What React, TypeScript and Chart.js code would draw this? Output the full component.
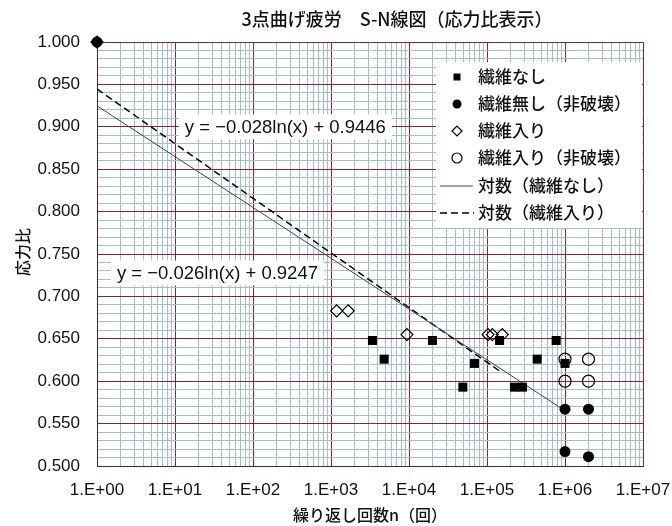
import React, { useEffect, useRef } from 'react';
import { Chart, registerables } from 'chart.js';

Chart.register(...registerables);

// ---- text ----
const titleText = '3点曲げ疲労　S-N線図（応力比表示）';
const xAxisTitle = '繰り返し回数n（回）';
const yAxisTitle = '応力比';
const seriesNames = ['繊維なし', '繊維無し（非破壊）', '繊維入り', '繊維入り（非破壊）', '対数（繊維なし）', '対数（繊維入り）'];

// ---- data ----
const noFiberX = [3400, 4800, 20000, 49000, 69000, 145000, 225000, 285000, 440000, 770000, 1000000];
const noFiberY = [0.648, 0.626, 0.648, 0.593, 0.621, 0.648, 0.593, 0.593, 0.626, 0.648, 0.621];

const noFiberRunoutX = [1, 1000000, 2000000, 1000000, 2000000];
const noFiberRunoutY = [1.0, 0.567, 0.567, 0.517, 0.511];

const fiberX = [1, 1180, 1660, 9400, 103000, 117000, 157000];
const fiberY = [1.0, 0.683, 0.683, 0.655, 0.655, 0.655, 0.655];

const fiberRunoutX = [1000000, 2000000, 1000000, 2000000];
const fiberRunoutY = [0.626, 0.626, 0.6, 0.6];

const trendNoFiberX = [1, 900000];
const trendNoFiberY = [0.9247, 0.568];
const trendFiberX = [1, 157000];
const trendFiberY = [0.9446, 0.6097];

const eqNoFiber = 'y = −0.026ln(x) + 0.9247';
const eqNoFiberAt = [35, 0.7276];
const eqFiber = 'y = −0.028ln(x) + 0.9446';
const eqFiberAt = [260, 0.9];

// ---- ticks ----
const xTickLabels = ['1.E+00', '1.E+01', '1.E+02', '1.E+03', '1.E+04', '1.E+05', '1.E+06', '1.E+07'];
const yTickLabels = ['0.500', '0.550', '0.600', '0.650', '0.700', '0.750', '0.800', '0.850', '0.900', '0.950', '1.000'];

const xTickValues: number[] = [];
for (let d = 0; d < 7; d++) for (let m = 1; m <= 9; m++) xTickValues.push(m * Math.pow(10, d));
xTickValues.push(1e7);
const yTickValues: number[] = [];
for (let i = 50; i <= 100; i++) yTickValues.push(i / 100);

const MAJOR = '#8a2236';
const MINOR = '#a3c0c9';
const AXIS = '#4a2530';
const TXT = '#111111';
const JP = '"Noto Sans CJK JP", "Noto Sans", sans-serif';
const LAT = '"Liberation Sans", Arial, sans-serif';

const isDecade = (v: number) => {
  const e = Math.log10(v);
  return Math.abs(e - Math.round(e)) < 1e-9;
};
const isYMajor = (v: number) => Math.round(v * 1000) % 50 === 0;

const toPts = (xs: number[], ys: number[]) => xs.map((x, i) => ({ x, y: ys[i] }));

const overlay = {
  id: 'overlay',
  afterDraw(chart: any) {
    const ctx = chart.ctx as CanvasRenderingContext2D;
    const xs = chart.scales.x;
    const ys = chart.scales.y;
    const area = chart.chartArea;
    ctx.save();
    // title
    ctx.fillStyle = TXT;
    ctx.font = `500 18px ${JP}`;
    ctx.textAlign = 'center';
    ctx.textBaseline = 'middle';
    ctx.fillText(titleText, 397, 19);
    // x title
    ctx.font = `500 16px ${JP}`;
    ctx.fillText(xAxisTitle, (area.left + area.right) / 2, 515);
    // y title
    ctx.save();
    ctx.translate(23, 252);
    ctx.rotate(-Math.PI / 2);
    ctx.fillText(yAxisTitle, 0, 0);
    ctx.restore();

    // equations
    const drawEq = (text: string, at: number[]) => {
      const cx = xs.getPixelForValue(at[0]);
      const cy = ys.getPixelForValue(at[1]);
      ctx.font = `18.5px ${LAT}`;
      const w = ctx.measureText(text).width;
      ctx.fillStyle = '#ffffff';
      ctx.fillRect(cx - w / 2 - 6, cy - 12.5, w + 12, 25);
      ctx.fillStyle = TXT;
      ctx.textAlign = 'center';
      ctx.textBaseline = 'middle';
      ctx.fillText(text, cx, cy + 1);
    };
    drawEq(eqFiber, eqFiberAt);
    drawEq(eqNoFiber, eqNoFiberAt);

    // legend
    const lx = 436, ly = 62, lw = area.right - 1 - lx, lh = 166;
    ctx.fillStyle = '#ffffff';
    ctx.fillRect(lx, ly, lw, lh);
    const rows = [77, 104, 131, 158, 186, 213];
    const mx = 457;
    ctx.fillStyle = '#000';
    ctx.strokeStyle = '#000';
    ctx.fillRect(mx - 3.5, rows[0] - 3.5, 7, 7);
    ctx.beginPath();
    ctx.arc(mx, rows[1], 4.5, 0, Math.PI * 2);
    ctx.fill();
    ctx.lineWidth = 1.2;
    ctx.beginPath();
    ctx.moveTo(mx - 5, rows[2]);
    ctx.lineTo(mx, rows[2] - 5);
    ctx.lineTo(mx + 5, rows[2]);
    ctx.lineTo(mx, rows[2] + 5);
    ctx.closePath();
    ctx.stroke();
    ctx.beginPath();
    ctx.arc(mx, rows[3], 5, 0, Math.PI * 2);
    ctx.stroke();
    ctx.strokeStyle = '#444';
    ctx.lineWidth = 1;
    ctx.beginPath();
    ctx.moveTo(440, rows[4]);
    ctx.lineTo(473, rows[4]);
    ctx.stroke();
    ctx.strokeStyle = '#000';
    ctx.lineWidth = 1.5;
    ctx.setLineDash([7, 4]);
    ctx.beginPath();
    ctx.moveTo(440, rows[5]);
    ctx.lineTo(474, rows[5]);
    ctx.stroke();
    ctx.setLineDash([]);
    ctx.fillStyle = TXT;
    ctx.font = `500 17px ${JP}`;
    ctx.textAlign = 'left';
    ctx.textBaseline = 'middle';
    seriesNames.forEach((n, i) => ctx.fillText(n, 478, rows[i]));
    ctx.restore();
  },
};

export default function App() {
  const ref = useRef<HTMLCanvasElement>(null);
  useEffect(() => {
    const chart = new Chart(ref.current as HTMLCanvasElement, {
      type: 'scatter',
      data: {
        datasets: [
          {
            label: seriesNames[0],
            data: toPts(noFiberX, noFiberY),
            pointStyle: 'rect',
            pointRadius: 6.4,
            backgroundColor: '#000',
            borderColor: '#000',
            borderWidth: 0,
            clip: false,
          },
          {
            label: seriesNames[1],
            data: toPts(noFiberRunoutX, noFiberRunoutY),
            pointStyle: 'circle',
            pointRadius: 5.5,
            backgroundColor: '#000',
            borderColor: '#000',
            borderWidth: 0,
            clip: false,
          },
          {
            label: seriesNames[2],
            data: toPts(fiberX, fiberY),
            pointStyle: 'rectRot',
            pointRadius: 6,
            backgroundColor: 'rgba(0,0,0,0)',
            borderColor: '#000',
            borderWidth: 1.2,
            clip: false,
          },
          {
            label: seriesNames[3],
            data: toPts(fiberRunoutX, fiberRunoutY),
            pointStyle: 'circle',
            pointRadius: 6,
            backgroundColor: 'rgba(0,0,0,0)',
            borderColor: '#000',
            borderWidth: 1.2,
            clip: false,
          },
          {
            label: seriesNames[4],
            data: toPts(trendNoFiberX, trendNoFiberY),
            showLine: true,
            pointRadius: 0,
            borderColor: '#444',
            borderWidth: 1,
          },
          {
            label: seriesNames[5],
            data: toPts(trendFiberX, trendFiberY),
            showLine: true,
            pointRadius: 0,
            borderColor: '#000',
            borderWidth: 1.5,
            borderDash: [7, 4],
          },
        ] as any,
      },
      options: {
        responsive: false,
        animation: false,
        devicePixelRatio: 1,
        layout: { padding: { top: 42, right: 29, bottom: 0, left: 0 } },
        plugins: { legend: { display: false }, title: { display: false }, tooltip: { enabled: false } },
        scales: {
          x: {
            type: 'logarithmic',
            min: 1,
            max: 1e7,
            afterBuildTicks: (s: any) => {
              s.ticks = xTickValues.map((v) => ({ value: v }));
            },
            afterFit: (s: any) => {
              s.height = 60;
              s.paddingLeft = 0;
              s.paddingRight = 0;
            },
            ticks: {
              autoSkip: false,
              maxRotation: 0,
              minRotation: 0,
              padding: 14,
              color: TXT,
              font: { family: LAT, size: 17 },
              callback: (v: any) => (isDecade(Number(v)) ? xTickLabels[Math.round(Math.log10(Number(v)))] : ''),
            },
            grid: {
              drawTicks: false,
              lineWidth: 1,
              color: (c: any) => (c.tick && isDecade(c.tick.value) ? MAJOR : MINOR),
            },
            border: { color: AXIS, width: 1 },
          },
          y: {
            type: 'linear',
            min: 0.5,
            max: 1.0,
            afterBuildTicks: (s: any) => {
              s.ticks = yTickValues.map((v) => ({ value: v }));
            },
            afterFit: (s: any) => {
              s.width = 97;
              s.paddingTop = 0;
              s.paddingBottom = 0;
            },
            ticks: {
              autoSkip: false,
              padding: 17,
              color: TXT,
              font: { family: LAT, size: 17 },
              callback: (v: any) => (isYMajor(Number(v)) ? yTickLabels[Math.round((Number(v) - 0.5) * 20)] : ''),
            },
            grid: {
              drawTicks: false,
              lineWidth: 1,
              color: (c: any) => (c.tick && isYMajor(c.tick.value) ? MAJOR : MINOR),
            },
            border: { color: AXIS, width: 1 },
          },
        },
      } as any,
      plugins: [overlay],
    });
    return () => chart.destroy();
  }, []);
  return (
    <div style={{ position: 'fixed', left: 0, top: 0, width: 672, height: 526, background: '#fff' }}>
      <canvas ref={ref} width={672} height={526} style={{ width: 672, height: 526, display: 'block' }} />
    </div>
  );
}
